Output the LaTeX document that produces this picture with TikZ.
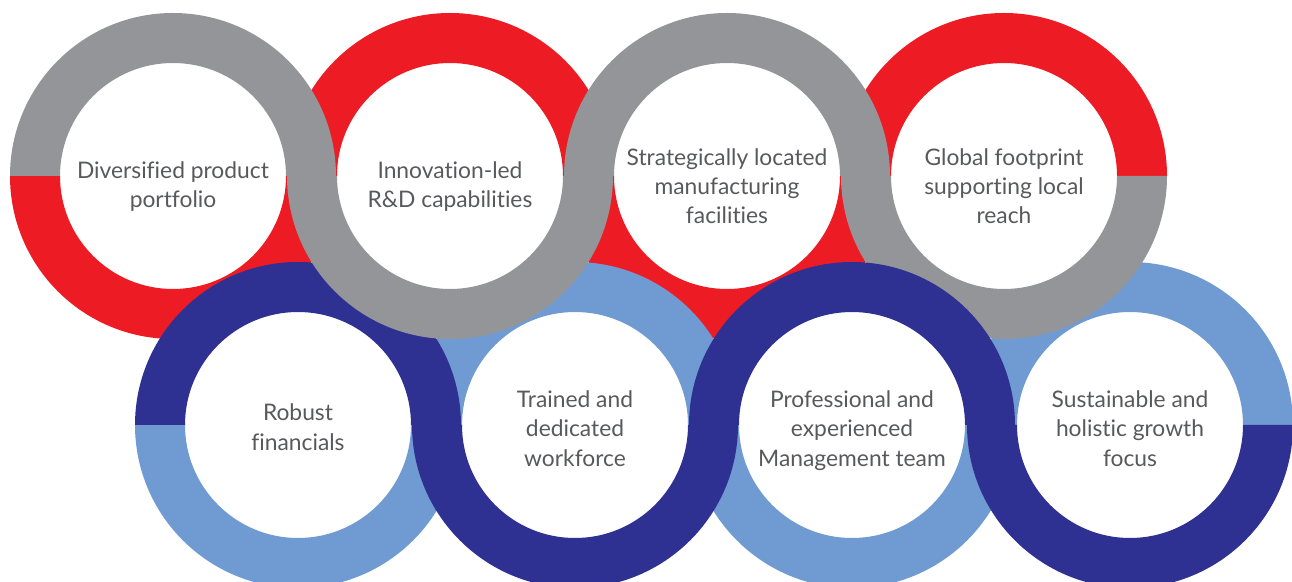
\documentclass[tikz,border=0pt]{standalone}
\usepackage{fontspec}
\setmainfont{Lato}[Ligatures=NoCommon]
\definecolor{rgray}{RGB}{147,149,152}
\definecolor{rred}{RGB}{237,28,36}
\definecolor{rdblue}{RGB}{46,49,146}
\definecolor{rlblue}{RGB}{111,155,210}
\definecolor{rtext}{RGB}{88,89,91}
\newcommand\ringband[4]{%
  \fill[#2] (#1) ++(#3:163) arc[start angle=#3, end angle=#4, radius=163]
    -- ++(#4:-50) arc[start angle=#4, end angle=#3, radius=113] -- cycle;}
\tikzset{
  lbl/.style={anchor=base, inner sep=0pt, text=rtext, font=\fontsize{22.8}{27}\selectfont}
}
\begin{document}
\begin{tikzpicture}[x=1pt,y=1pt]
\useasboundingbox (0,0) rectangle (1292,581);
\clip (0,0) rectangle (1292,581);
\coordinate (r1) at (173,405);
\coordinate (r2) at (450,405);
\coordinate (r3) at (727,405);
\coordinate (r4) at (1004,405);
\coordinate (r5) at (298,156);
\coordinate (r6) at (575,156);
\coordinate (r7) at (852,156);
\coordinate (r8) at (1130,156);
% red halves
\ringband{r1}{rred}{180}{360}
\ringband{r2}{rred}{0}{180}
\ringband{r3}{rred}{180}{360}
\ringband{r4}{rred}{0}{180}
% light blue halves
\ringband{r5}{rlblue}{180}{360}
\ringband{r6}{rlblue}{0}{180}
\ringband{r7}{rlblue}{180}{360}
\ringband{r8}{rlblue}{0}{180}
% dark blue halves
\ringband{r5}{rdblue}{0}{180}
\ringband{r6}{rdblue}{180}{360}
\ringband{r8}{rdblue}{180}{360}
% gray halves
\ringband{r1}{rgray}{0}{180}
\ringband{r2}{rgray}{180}{360}
\ringband{r3}{rgray}{0}{180}
\ringband{r4}{rgray}{180}{360}
% ring 7 top over ring 4
\ringband{r7}{rdblue}{0}{180}
% labels
\node[lbl] (t1a) at ([yshift=-3pt]r1) {Diversified product};
\node[lbl] (t1b) at ([yshift=-32pt]r1) {portfolio};
\node[lbl] (t2a) at ([yshift=-3pt]r2) {Innovation-led};
\node[lbl] (t2b) at ([yshift=-32pt]r2) {R\&D capabilities};
\node[lbl] (t3a) at ([yshift=10pt]r3) {Strategically located};
\node[lbl] (t3b) at ([yshift=-19pt]r3) {manufacturing};
\node[lbl] (t3c) at ([yshift=-48pt]r3) {facilities};
\node[lbl] (t4a) at ([yshift=10pt]r4) {Global footprint};
\node[lbl] (t4b) at ([yshift=-19pt]r4) {supporting local};
\node[lbl] (t4c) at ([yshift=-48pt]r4) {reach};
\node[lbl] (t5a) at ([yshift=4pt]r5) {Robust};
\node[lbl] (t5b) at ([yshift=-25pt]r5) {financials};
\node[lbl] (t6a) at ([yshift=17pt]r6) {Trained and};
\node[lbl] (t6b) at ([yshift=-12pt]r6) {dedicated};
\node[lbl] (t6c) at ([yshift=-42pt]r6) {workforce};
\node[lbl] (t7a) at ([yshift=17pt]r7) {Professional and};
\node[lbl] (t7b) at ([yshift=-12pt]r7) {experienced};
\node[lbl] (t7c) at ([yshift=-42pt]r7) {Management team};
\node[lbl] (t8a) at ([yshift=17pt]r8) {Sustainable and};
\node[lbl] (t8b) at ([yshift=-12pt]r8) {holistic growth};
\node[lbl] (t8c) at ([yshift=-42pt]r8) {focus};
\end{tikzpicture}
\end{document}
